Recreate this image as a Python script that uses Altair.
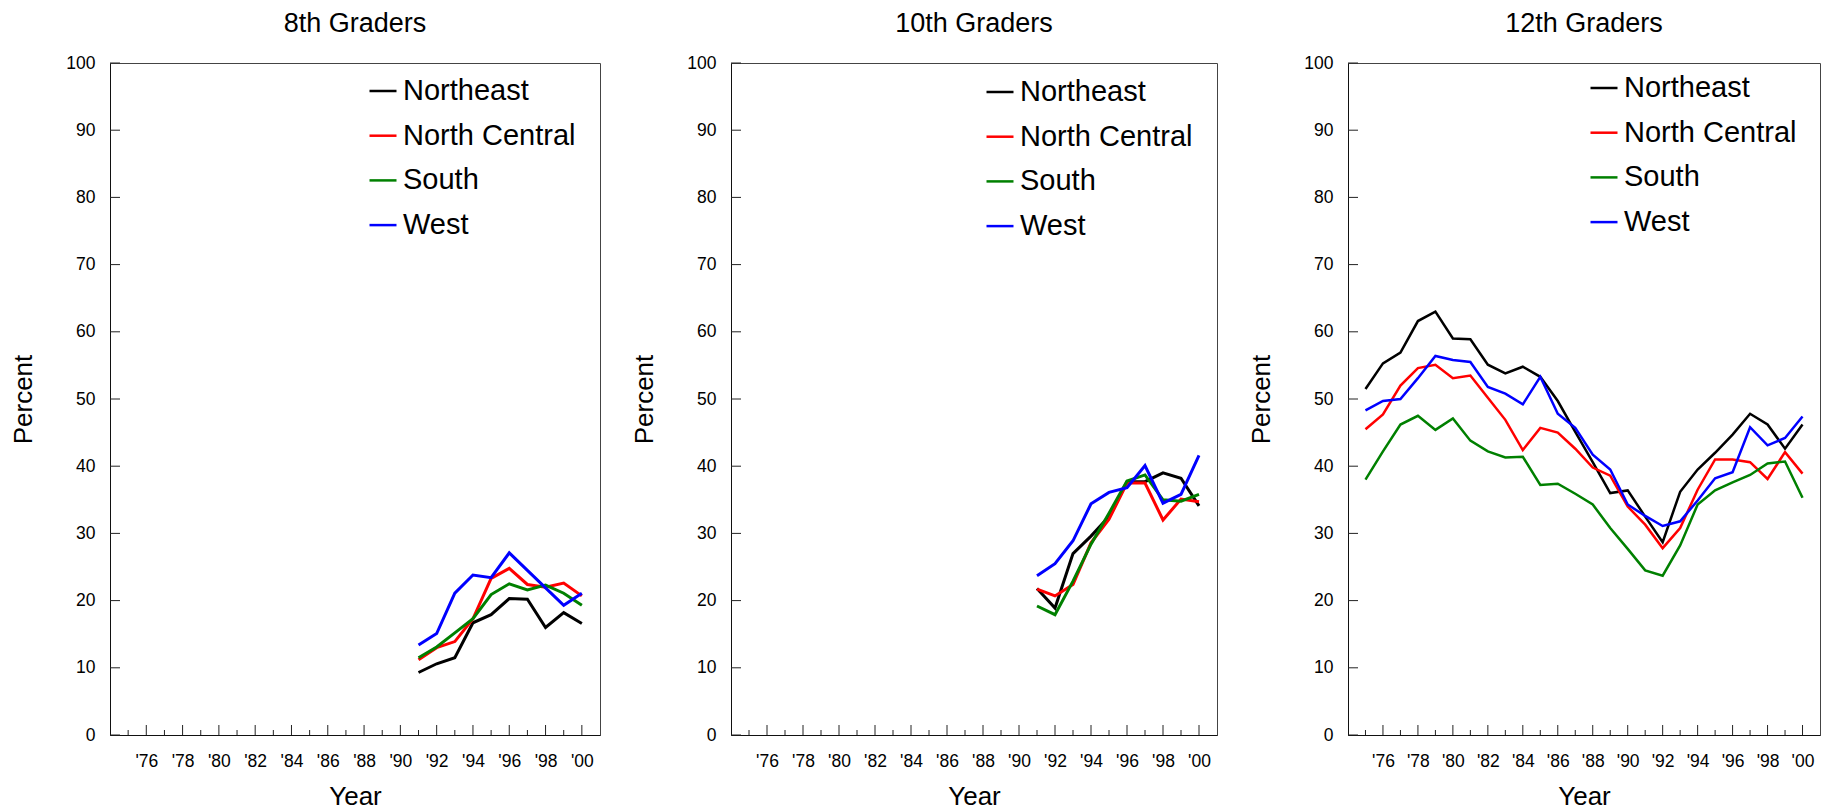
import json
import altair as alt
import pandas as pd

FONT = "Liberation Sans"

regions = ["Northeast", "North Central", "South", "West"]
colors = ["#000000", "#ff0000", "#008000", "#0000ff"]

years_8 = list(range(1991, 2001))
g8_northeast = [9.3, 10.6, 11.5, 16.7, 17.9, 20.3, 20.2, 16.0, 18.2, 16.6]
g8_north_central = [11.2, 13.0, 13.9, 17.3, 23.3, 24.8, 22.4, 22.0, 22.6, 20.7]
g8_south = [11.5, 13.1, 15.2, 17.3, 20.9, 22.5, 21.6, 22.3, 21.1, 19.3]
g8_west = [13.4, 15.1, 21.1, 23.8, 23.4, 27.1, 24.5, 21.9, 19.3, 21.1]

years_10 = list(range(1991, 2001))
g10_northeast = [21.8, 18.9, 27.0, 29.6, 32.5, 37.7, 37.7, 39.0, 38.2, 34.1]
g10_north_central = [21.7, 20.7, 22.4, 28.6, 32.1, 37.5, 37.5, 32.0, 35.1, 34.7]
g10_south = [19.2, 17.9, 22.9, 28.4, 33.0, 37.8, 38.7, 35.0, 34.8, 35.8]
g10_west = [23.7, 25.5, 28.9, 34.4, 36.1, 36.8, 40.1, 34.5, 35.8, 41.6]

years_12 = list(range(1975, 2001))
g12_northeast = [51.5, 55.3, 56.9, 61.6, 63.0, 59.0, 58.9, 55.1, 53.8, 54.8, 53.3, 49.7, 45.1,
                 40.6, 36.0, 36.4, 32.5, 28.7, 36.2, 39.5, 42.0, 44.7, 47.8, 46.2, 42.6, 46.2]
g12_north_central = [45.5, 47.7, 52.0, 54.6, 55.1, 53.1, 53.5, 50.2, 46.9, 42.4, 45.7, 45.0, 42.6,
                     39.8, 38.6, 34.0, 31.3, 27.8, 30.8, 36.5, 41.0, 41.0, 40.6, 38.1, 42.1, 38.9]
g12_south = [38.0, 42.2, 46.2, 47.5, 45.4, 47.1, 43.8, 42.2, 41.3, 41.4, 37.2, 37.4, 35.9,
             34.3, 30.8, 27.7, 24.5, 23.7, 28.2, 34.3, 36.4, 37.6, 38.7, 40.4, 40.7, 35.3]
g12_west = [48.3, 49.7, 50.0, 53.1, 56.4, 55.8, 55.5, 51.8, 50.8, 49.2, 53.3, 47.8, 45.7,
            41.7, 39.5, 34.3, 32.6, 31.1, 31.8, 34.9, 38.2, 39.1, 45.8, 43.1, 44.2, 47.4]

titles = ["8th Graders", "10th Graders", "12th Graders"]
x_label_years = list(range(1976, 2001, 2))
x_tick_labels = ["'76", "'78", "'80", "'82", "'84", "'86", "'88", "'90", "'92", "'94", "'96", "'98", "'00"]
x_minor_years = list(range(1975, 2000, 2))
y_ticks = list(range(0, 101, 10))

label_expr = "[" + ",".join(json.dumps(s) for s in x_tick_labels) + "][(datum.value - 1976) / 2]"


def make_df(years, series):
    rows = []
    for r, vals in zip(regions, series):
        for y, v in zip(years, vals):
            rows.append({"year": y, "region": r, "pct": v})
    return pd.DataFrame(rows)


def panel(title, years, series, width, height, lw, legx, legy):
    df = make_df(years, series)
    xs = alt.Scale(domain=[1974, 2001], nice=False, zero=False)
    ys = alt.Scale(domain=[0, 100], nice=False, zero=True)
    xaxis = alt.Axis(values=x_label_years, labelExpr=label_expr, ticks=False, tickSize=0,
                     grid=False, domainColor="#111111", domainWidth=1,
                     labelFont=FONT, labelFontSize=17.5, labelColor="black", labelPadding=17,
                     title="Year", titleFont=FONT, titleFontSize=26, titleFontWeight="normal",
                     titleColor="black", titlePadding=14)
    yaxis = alt.Axis(values=y_ticks, ticks=False, tickSize=0, grid=False,
                     domainColor="#111111", domainWidth=1,
                     labelFont=FONT, labelFontSize=17.5, labelColor="black", labelPadding=15,
                     title="Percent", titleFont=FONT, titleFontSize=26, titleFontWeight="normal",
                     titleColor="black", titlePadding=29)
    lines = alt.Chart(df).mark_line(strokeWidth=lw).encode(
        x=alt.X("year:Q", scale=xs, axis=xaxis),
        y=alt.Y("pct:Q", scale=ys, axis=yaxis),
        color=alt.Color("region:N", sort=regions,
                        scale=alt.Scale(domain=regions, range=colors),
                        legend=alt.Legend(orient="none", legendX=legx, legendY=legy, title=None,
                                          symbolType="stroke", symbolSize=729,
                                          symbolStrokeWidth=2.5, labelFont=FONT,
                                          labelFontSize=29, labelColor="black", labelLimit=0,
                                          labelOffset=5, rowPadding=14.7, padding=0)),
        order=alt.Order("region:N"),
    )
    ytk = alt.Chart(pd.DataFrame({"pct": y_ticks})).mark_rule(color="#222222", strokeWidth=1).encode(
        y=alt.Y("pct:Q", scale=ys, axis=yaxis), x=alt.value(0), x2=alt.value(10))
    xmaj = alt.Chart(pd.DataFrame({"year": x_label_years})).mark_rule(color="#222222", strokeWidth=1).encode(
        x=alt.X("year:Q", scale=xs, axis=xaxis), y=alt.value(height), y2=alt.value(height - 10))
    xmin = alt.Chart(pd.DataFrame({"year": x_minor_years})).mark_rule(color="#222222", strokeWidth=1).encode(
        x=alt.X("year:Q", scale=xs, axis=xaxis), y=alt.value(height), y2=alt.value(height - 5))
    return alt.layer(ytk, xmaj, xmin, lines).properties(
        width=width, height=height,
        title=alt.TitleParams(title, font=FONT, fontSize=27, fontWeight="normal", color="black",
                              anchor="middle", offset=16),
    )


p1 = panel(titles[0], years_8, [g8_northeast, g8_north_central, g8_south, g8_west],
           490, 672, 3, 258, 13)
p2 = panel(titles[1], years_10, [g10_northeast, g10_north_central, g10_south, g10_west],
           486, 672, 3, 254, 14)
p3 = panel(titles[2], years_12, [g12_northeast, g12_north_central, g12_south, g12_west],
           472, 672, 2.5, 241, 10)

chart = alt.hconcat(p1, p2, p3, spacing=30).resolve_scale(color="independent").properties(
    padding={"left": 2, "top": 1, "right": 5, "bottom": 2},
    background="white",
).configure_view(stroke="#444444", strokeWidth=1)

chart.save("out.html", embed_options={"renderer": "svg", "actions": False})
